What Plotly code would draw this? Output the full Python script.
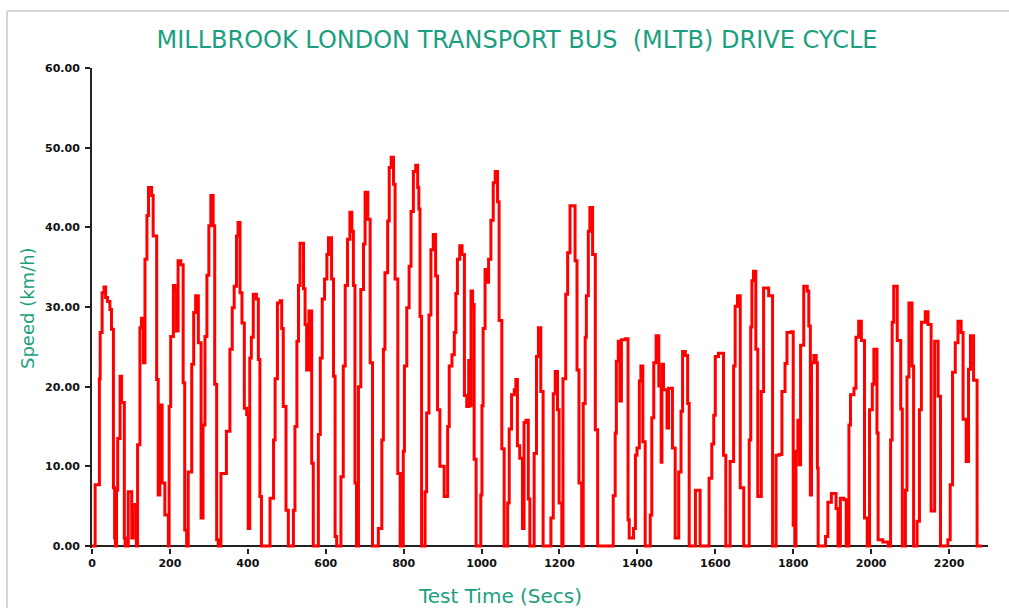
import plotly.graph_objects as go

# Step data: speed (km/h) holds from each time (s) until the next one
time_s = [
    0, 8, 19, 21, 26, 31, 35, 40, 46, 50, 55, 58, 60, 63, 66, 72, 76, 83, 85, 93,
    102, 106, 114, 117, 123, 127, 132, 136, 141, 145, 153, 157, 166, 170, 174, 180,
    187, 196, 198, 202, 209, 213, 217, 221, 228, 234, 238, 243, 247, 256, 261, 266,
    273, 280, 285, 290, 295, 300, 305, 311, 315, 320, 324, 331, 345, 354, 360, 365,
    371, 375, 380, 385, 391, 397, 401, 405, 409, 414, 422, 427, 431, 435,
    457, 466, 470, 476, 483, 487, 491, 498, 504, 517, 521, 526, 530, 534, 543, 547,
    551, 557, 564, 568, 581, 586, 591, 597, 603, 607, 615, 620, 624, 628, 639, 645,
    650, 656, 662, 667, 671, 675, 679, 684, 690, 697, 701, 708, 714, 720, 735, 744,
    748, 752, 759, 763, 768, 774, 778, 785, 791, 799, 802, 808, 814, 819, 825, 831,
    836, 839, 842, 846, 855, 859, 865, 870, 876, 882, 887, 893,
    904, 913, 917, 924, 930, 934, 938, 944, 950, 956, 962, 967, 971, 973, 977, 981,
    986, 998, 1001, 1004, 1009, 1013, 1018, 1024, 1030, 1035, 1041, 1045, 1052, 1058,
    1067, 1071, 1077, 1084, 1088, 1092, 1098, 1105, 1109, 1114, 1120, 1124, 1135,
    1141, 1146, 1152, 1158, 1178, 1184, 1189, 1195, 1199, 1206, 1209, 1216, 1221,
    1227, 1240, 1245, 1250, 1257, 1261, 1266, 1269, 1274, 1278, 1285, 1292, 1298,
    1338, 1343, 1346, 1351,
    1355, 1359, 1369, 1376, 1379, 1390, 1395, 1399, 1405, 1409, 1414, 1420, 1433,
    1437, 1442, 1448, 1455, 1461, 1463, 1467, 1476, 1480, 1490, 1497, 1506, 1512,
    1516, 1523, 1529, 1533, 1549, 1561, 1584, 1591, 1596, 1600, 1608, 1621, 1627,
    1638, 1647, 1651, 1657, 1664, 1673, 1687, 1691, 1694, 1698, 1704, 1709, 1718,
    1724, 1737, 1747, 1756, 1764, 1771, 1779, 1784, 1795, 1800, 1804, 1807, 1812,
    1815, 1819, 1827, 1836, 1840, 1844, 1847, 1853, 1859, 1862, 1864, 1883, 1889,
    1898, 1910, 1915, 1921, 1930, 1936, 1943, 1947, 1956, 1961, 1968, 1975, 1983,
    1990, 1996, 2003, 2007, 2015, 2018, 2030, 2044, 2050, 2054, 2058, 2067, 2076,
    2080, 2088, 2092, 2097, 2105, 2109, 2118, 2124, 2129, 2139, 2146, 2154, 2163,
    2172, 2178, 2197, 2203, 2209, 2216, 2223, 2231, 2236, 2244, 2250, 2255, 2263,
    2272, 2285,
]

speed_kmh = [
    0, 7.7, 21, 26.8, 31.8, 32.5, 31.2, 30.7, 29.7, 27.2, 7.3, 1, 0, 7, 13.5, 21.3, 18, 1, 0, 6.8,
    1, 5.2, 0, 12.7, 27.4, 28.6, 23, 36, 41.5, 45, 44, 38.9, 20.9, 6.4, 17.7, 7.9,
    3.9, 0, 17.5, 26.3, 32.7, 32, 27, 35.8, 35.3, 20.5, 2, 0, 9.3, 22.8, 29.3, 31.4,
    25.5, 3.5, 15.2, 26.3, 34, 40.2, 44, 40.2, 20.3, 0.8, 0, 9.1, 14.4, 24.7, 29.9, 32.6,
    38.9, 40.6, 31.8, 28, 17.3, 16.5, 2.2, 23.6, 26.2, 31.6, 31, 23.4, 6.2, 0,
    6, 13.3, 21, 30.5, 30.8, 27.3, 17.5, 4.5, 0, 4.5, 15, 25.7, 32.7, 38, 32.3, 27.8,
    22.1, 29.5, 10.4, 0, 14, 23.6, 31, 33.5, 36.6, 38.7, 33.5, 21.3, 1.2, 0, 8.7, 22.6,
    32.7, 38.5, 41.9, 39.5, 32.7, 7.9, 0, 20, 32.2, 37.9, 44.4, 41, 23, 0, 2.2, 13.3,
    24.7, 34.3, 40.8, 47.5, 48.8, 45.4, 33.5, 9.1, 0, 11.9, 22.6, 29.9, 35.1, 42, 47, 47.8,
    45, 42.3, 28.8, 0, 6.8, 16.7, 29, 37.2, 39.1, 33.9, 17.1, 10,
    6.2, 15, 22.6, 24, 26.8, 31.7, 36, 37.7, 36.6, 18.9, 17.5, 23.3, 17.6, 32, 30.3, 10.9,
    0, 6.4, 17.6, 27.3, 34.7, 33.1, 36, 40.9, 45.6, 47, 43.2, 28.3, 12.2, 0,
    5.4, 14.7, 19, 19.6, 20.9, 12.6, 11, 2.2, 15.5, 15.8, 5.9, 0, 11.6,
    23.8, 27.4, 19.4, 0, 3.5, 19.1, 21.9, 17.1, 5.4, 0, 21, 31.6, 36.8,
    42.7, 35.8, 22.1, 7.9, 0, 17.9, 26.2, 31.4, 39.5, 42.5, 36.6, 14.6, 0,
    6.3, 14.2, 23.2, 25.7,
    18.2, 25.9, 26, 3.3, 1, 2.2, 11.4, 12.3, 20.7, 22.6, 13.1, 0, 3.9,
    16.1, 23, 26.4, 20.1, 10.5, 22.8, 19.6, 14.8, 19.8, 12.3, 1, 9.3, 16.9,
    24.4, 23.9, 17.9, 0, 7, 0, 8.5, 12.8, 16.4, 23.8, 24.2, 11.4, 0,
    10.6, 22.6, 30.1, 31.4, 7.3, 0, 13.3, 27.5, 33.3, 34.5, 24.7, 6.2, 19.4,
    32.4, 31.4, 0, 11.4, 11.5, 19.4, 22.9, 26.8, 26.9, 2.6, 0, 11.9, 15.8,
    10.2, 25.2, 32.6, 32, 27.6, 6.4, 23, 23.9, 23, 9.8, 0, 1.2, 5.5,
    6.6, 4.7, 0, 6, 5.8, 0, 15.2, 19, 19.8, 26.2, 28.2, 25.8, 3.5,
    0, 17.1, 20.3, 24.7, 14.2, 0.8, 0.5, 0, 13.3, 28.1, 32.6, 25.8, 17.2,
    0, 7, 21.2, 30.5, 22.6, 0, 3.1, 17.1, 28.1, 29.4, 27.8, 4.4, 25.7,
    18.8, 0, 0.8, 7.7, 21.8, 25.5, 28.2, 26.8, 15.9, 10.6, 22.2, 26.4, 20.8,
    0, 0,
]

x_ticks = list(range(0, 2201, 200))
y_ticks = [0, 10, 20, 30, 40, 50, 60]

TITLE = "MILLBROOK LONDON TRANSPORT BUS \u00a0(MLTB) DRIVE CYCLE"
X_TITLE = "Test Time (Secs)"
Y_TITLE = "Speed (km/h)"
TEAL = "#1c9f80"

W, H = 1009, 608
L, R, T, B = 92, 21, 68, 60
PW, PH = W - L - R, H - T - B


def px_x(px):
    return (px - L) / PW


def px_y(py):
    return (H - B - py) / PH


fig = go.Figure()
fig.add_trace(go.Scatter(
    x=time_s, y=speed_kmh, mode="lines",
    line=dict(color="#ff0000", width=3, shape="hv"),
    hoverinfo="skip", showlegend=False,
))

tickfont = dict(family="DejaVu Sans", size=11, color="#111111", weight="bold")

fig.update_layout(
    width=W, height=H,
    margin=dict(l=L, r=R, t=T, b=B, pad=0),
    paper_bgcolor="white", plot_bgcolor="white",
    title=dict(text=TITLE, x=517 / W, xanchor="center", xref="container",
               y=1 - 40 / H, yanchor="middle", yref="container",
               font=dict(family="DejaVu Sans", size=24, color=TEAL)),
    xaxis=dict(range=[0, 2300], tickvals=x_ticks, ticks="outside", ticklen=5,
               tickwidth=1.5, tickcolor="#222222", showline=False,
               showgrid=False, zeroline=False, tickfont=tickfont,
               layer="below traces"),
    yaxis=dict(range=[-0.25, 60], tickvals=y_ticks, tickformat=".2f",
               ticks="outside", ticklen=5, tickwidth=1.5, tickcolor="#222222",
               showline=True, linecolor="#222222", linewidth=2,
               showgrid=False, zeroline=False, tickfont=tickfont,
               ticklabelstandoff=3, layer="below traces"),
    shapes=[
        dict(type="line", xref="x", yref="y", x0=0, x1=2300, y0=0, y1=0,
             line=dict(color="#222222", width=2), layer="below"),
        dict(type="line", xref="paper", yref="paper", x0=px_x(7), x1=px_x(1012),
             y0=px_y(11), y1=px_y(11), line=dict(color="#d4d4d4", width=2)),
        dict(type="line", xref="paper", yref="paper", x0=px_x(7), x1=px_x(7),
             y0=px_y(11), y1=px_y(612), line=dict(color="#d4d4d4", width=2)),
    ],
    annotations=[
        dict(text=X_TITLE, xref="paper", yref="paper", x=px_x(500), y=px_y(596),
             xanchor="center", yanchor="middle", showarrow=False,
             font=dict(family="DejaVu Sans", size=20, color=TEAL)),
        dict(text=Y_TITLE, xref="paper", yref="paper", x=px_x(27), y=px_y(308),
             xanchor="center", yanchor="middle", showarrow=False, textangle=-90,
             font=dict(family="DejaVu Sans", size=18, color=TEAL)),
    ],
)

fig.write_html("out.html", config={"displayModeBar": False},
               post_script="document.body.style.margin='0';")
